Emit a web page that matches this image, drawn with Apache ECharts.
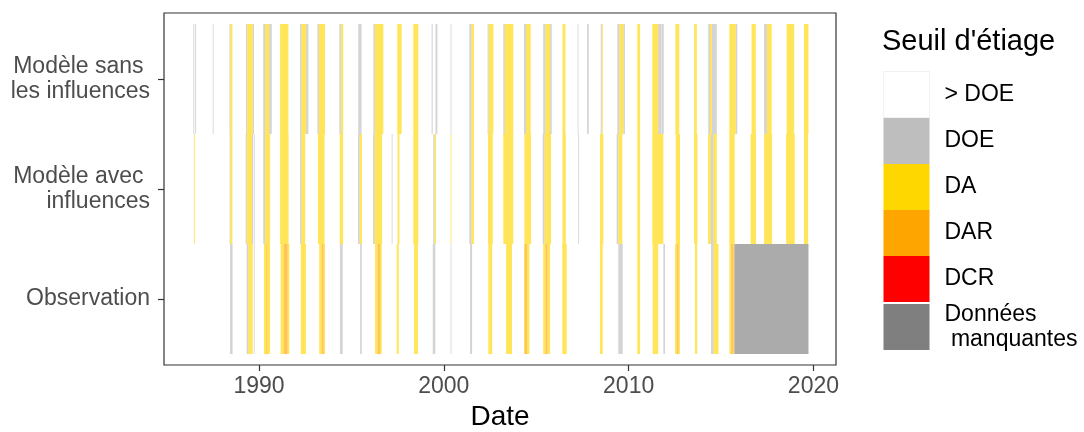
<!DOCTYPE html>
<html>
<head>
<meta charset="utf-8">
<script src="https://cdn.jsdelivr.net/npm/echarts@6/dist/echarts.min.js"></script>
<style>
html,body{margin:0;padding:0;background:#fff;}
#c{width:1084px;height:432px;}
</style>
</head>
<body>
<div id="c"></div>
<script>
// Categories (legend order) and colours
const categories = ['> DOE', 'DOE', 'DA', 'DAR', 'DCR', 'Données manquantes'];
const categoryColors = ['#FFFFFF', '#BEBEBE', '#FFD700', '#FFA500', '#FF0000', '#7F7F7F'];
const rowLabels = ['Observation', 'Modèle avec \ninfluences', 'Modèle sans \nles influences'];
const xTickValues = [1990, 2000, 2010, 2020];
const dataSpan = [1986.5, 2019.73];

// Episodes [start year, end year, category] per row
const sansInfluences = [
  [1986.45,1986.5,'DOE'],[1986.55,1986.6,'DOE'],[1987.5,1987.54,'DOE'],
  [1988.4,1988.45,'DOE'],[1988.45,1988.56,'DA'],
  [1989.3,1989.36,'DOE'],[1989.36,1989.66,'DA'],[1989.66,1989.73,'DOE'],
  [1990.23,1990.33,'DOE'],[1990.33,1990.55,'DA'],[1990.55,1990.69,'DOE'],
  [1991.14,1991.59,'DA'],
  [1992.22,1992.3,'DOE'],[1992.3,1992.55,'DA'],[1992.55,1992.67,'DOE'],
  [1993.16,1993.24,'DOE'],[1993.24,1993.57,'DA'],
  [1994.35,1994.45,'DOE'],[1994.45,1994.56,'DA'],
  [1995.37,1995.55,'DOE'],
  [1996.19,1996.27,'DOE'],[1996.27,1996.73,'DA'],
  [1997.48,1997.72,'DA'],
  [1998.35,1998.62,'DA'],
  [1999.34,1999.4,'DOE'],[1999.55,1999.65,'DOE'],
  [2000.37,2000.41,'DOE'],
  [2001.38,2001.5,'DOE'],[2001.5,2001.63,'DA'],
  [2002.37,2002.43,'DOE'],[2002.43,2002.68,'DA'],
  [2003.22,2003.3,'DOE'],[2003.3,2003.76,'DA'],
  [2004.34,2004.45,'DOE'],[2004.45,2004.7,'DA'],
  [2005.38,2005.5,'DOE'],[2005.5,2005.75,'DA'],[2005.75,2005.84,'DOE'],
  [2006.42,2006.58,'DA'],
  [2007.24,2007.28,'DOE'],[2007.75,2007.84,'DOE'],
  [2008.49,2008.55,'DOE'],[2008.55,2008.6,'DA'],
  [2009.39,2009.5,'DOE'],[2009.5,2009.72,'DA'],[2009.72,2009.8,'DOE'],
  [2010.47,2010.62,'DA'],
  [2011.28,2011.6,'DA'],[2011.6,2011.78,'DOE'],[2011.8,2011.9,'DOE'],
  [2012.53,2012.74,'DA'],
  [2013.54,2013.69,'DA'],
  [2014.31,2014.4,'DOE'],[2014.4,2014.5,'DA'],[2014.5,2014.77,'DOE'],
  [2015.45,2015.8,'DA'],[2015.8,2015.88,'DOE'],
  [2016.65,2016.88,'DA'],
  [2017.33,2017.48,'DOE'],[2017.48,2017.74,'DA'],
  [2018.55,2018.96,'DA'],
  [2019.49,2019.73,'DA']
];

const avecInfluences = [
  [1986.48,1986.52,'DA'],
  [1988.41,1988.45,'DOE'],[1988.45,1988.56,'DA'],
  [1989.28,1989.34,'DOE'],[1989.34,1989.62,'DA'],[1989.62,1989.68,'DOE'],[1989.72,1989.76,'DOE'],
  [1990.23,1990.33,'DOE'],[1990.33,1990.6,'DA'],
  [1991.14,1991.6,'DA'],
  [1992.22,1992.3,'DOE'],[1992.3,1992.5,'DA'],
  [1993.19,1993.55,'DA'],
  [1994.37,1994.55,'DA'],
  [1995.36,1995.45,'DOE'],[1995.45,1995.57,'DA'],
  [1996.17,1996.26,'DOE'],[1996.26,1996.66,'DA'],
  [1997.18,1997.22,'DOE'],
  [1997.5,1997.6,'DA'],
  [1998.35,1998.62,'DA'],
  [1999.43,1999.5,'DOE'],[1999.5,1999.58,'DA'],
  [2000.37,2000.41,'DA'],
  [2001.38,2001.5,'DOE'],[2001.5,2001.63,'DA'],
  [2002.39,2002.65,'DA'],
  [2003.22,2003.76,'DA'],
  [2004.36,2004.72,'DA'],
  [2005.35,2005.45,'DOE'],[2005.45,2005.8,'DA'],
  [2006.42,2006.6,'DA'],
  [2007.26,2007.3,'DOE'],
  [2008.45,2008.63,'DA'],
  [2009.35,2009.45,'DOE'],[2009.45,2009.66,'DA'],
  [2010.47,2010.62,'DA'],
  [2011.28,2011.88,'DA'],
  [2012.55,2012.78,'DA'],
  [2013.54,2013.72,'DA'],
  [2014.3,2014.45,'DA'],[2014.45,2014.6,'DOE'],[2014.6,2014.77,'DA'],
  [2015.45,2015.74,'DA'],
  [2016.6,2016.89,'DA'],
  [2017.33,2017.76,'DA'],
  [2018.52,2018.99,'DA'],
  [2019.49,2019.71,'DA']
];

const observation = [
  [1988.43,1988.57,'DOE'],
  [1989.33,1989.42,'DOE'],[1989.42,1989.66,'DA'],[1989.72,1989.76,'DOE'],
  [1990.27,1990.38,'DA'],[1990.38,1990.42,'DAR'],[1990.42,1990.6,'DA'],
  [1991.17,1991.35,'DA'],[1991.35,1991.55,'DAR'],[1991.55,1991.64,'DA'],
  [1992.26,1992.54,'DA'],
  [1993.26,1993.4,'DA'],[1993.4,1993.5,'DAR'],[1993.5,1993.57,'DA'],
  [1994.38,1994.53,'DOE'],
  [1995.47,1995.56,'DOE'],
  [1996.28,1996.42,'DA'],[1996.42,1996.55,'DAR'],[1996.55,1996.64,'DA'],
  [1997.45,1997.56,'DA'],
  [1998.39,1998.6,'DA'],
  [1999.4,1999.54,'DOE'],
  [2000.37,2000.41,'DOE'],
  [2001.42,2001.53,'DOE'],
  [2002.41,2002.62,'DA'],
  [2003.37,2003.69,'DA'],
  [2004.34,2004.38,'DA'],[2004.38,2004.5,'DAR'],[2004.5,2004.63,'DA'],
  [2005.38,2005.5,'DA'],[2005.5,2005.6,'DAR'],[2005.6,2005.75,'DA'],
  [2006.41,2006.65,'DA'],
  [2008.45,2008.6,'DA'],
  [2009.44,2009.68,'DOE'],
  [2010.47,2010.62,'DA'],
  [2011.3,2011.6,'DA'],
  [2011.88,2011.97,'DOE'],
  [2012.51,2012.6,'DA'],[2012.6,2012.7,'DAR'],[2012.7,2012.78,'DA'],
  [2013.59,2013.71,'DA'],
  [2014.46,2014.6,'DOE'],[2014.6,2014.86,'DA'],
  [2015.45,2015.55,'DA'],[2015.55,2015.68,'DAR'],[2015.68,2015.72,'DA'],
  [2015.72,2019.73,'Données manquantes']
];

const rows = [observation, avecInfluences, sansInfluences]; // y = 1, 2, 3

function seriesData(cat) {
  const out = [];
  rows.forEach((r, i) => {
    if (cat === '> DOE') out.push([dataSpan[0], dataSpan[1], i + 1]);
    r.forEach(e => { if (e[2] === cat) out.push([e[0], e[1], i + 1]); });
  });
  return out;
}

const FONT = '"Liberation Sans", Arial, sans-serif';
const chart = echarts.init(document.getElementById('c'), null, {renderer: 'canvas'});

const series = categories.map((cat, ci) => ({
  name: cat,
  type: 'custom',
  itemStyle: {color: categoryColors[ci]},
  encode: {x: [0, 1], y: 2},
  data: seriesData(cat),
  renderItem: function (params, api) {
    const p0 = api.coord([api.value(0), api.value(2) + 0.5]);
    const p1 = api.coord([api.value(1), api.value(2) - 0.5]);
    return {
      type: 'rect',
      shape: {x: p0[0], y: p0[1], width: Math.max(p1[0] - p0[0], 0.8), height: p1[1] - p0[1]},
      style: {fill: categoryColors[ci], opacity: 0.66}
    };
  }
}));

chart.setOption({
  animation: false,
  backgroundColor: '#fff',
  textStyle: {fontFamily: FONT},
  title: {
    text: "Seuil d'étiage", left: 882, top: 27, padding: 0,
    textStyle: {fontFamily: FONT, fontSize: 29, fontWeight: 'normal', color: '#000'}
  },
  legend: {
    orient: 'vertical', left: 883, top: 71, padding: 0,
    itemWidth: 46, itemHeight: 46, itemGap: 0,
    icon: 'rect', selectedMode: false,
    textStyle: {fontFamily: FONT, fontSize: 23, color: '#000', padding: [0, 0, 0, 10], lineHeight: 25},
    data: categories.map((c, i) => i === 0
      ? {name: c, itemStyle: {borderColor: '#F2F2F2', borderWidth: 1}}
      : {name: c}),
    formatter: n => n === 'Données manquantes' ? 'Données\n manquantes' : n
  },
  grid: {left: 164, right: 248, top: 13, bottom: 67, outerBoundsMode: 'none', containLabel: false,
    show: true, borderColor: '#333', borderWidth: 1.2, backgroundColor: '#fff'},
  xAxis: {
    type: 'value', min: 1984.86, max: 2021.22,
    name: 'Date', nameLocation: 'middle', nameGap: 36,
    nameTextStyle: {fontFamily: FONT, fontSize: 28, color: '#000'},
    axisLine: {show: false},
    splitLine: {show: false},
    axisTick: {show: true, length: 6, lineStyle: {color: '#333', width: 1.2}, customValues: xTickValues},
    axisLabel: {customValues: xTickValues, margin: 10, fontFamily: FONT, fontSize: 23, color: '#4D4D4D', formatter: v => String(v)}
  },
  yAxis: {
    type: 'value', min: 0.4, max: 3.6,
    axisLine: {show: false},
    splitLine: {show: false},
    axisTick: {show: true, length: 6, lineStyle: {color: '#333', width: 1.2}, customValues: [1, 2, 3]},
    axisLabel: {
      customValues: [1, 2, 3], margin: 14, fontFamily: FONT, fontSize: 23, color: '#4D4D4D',
      align: 'right', lineHeight: 25,
      formatter: v => rowLabels[Math.round(v) - 1]
    }
  },
  series: series
});
</script>
</body>
</html>
